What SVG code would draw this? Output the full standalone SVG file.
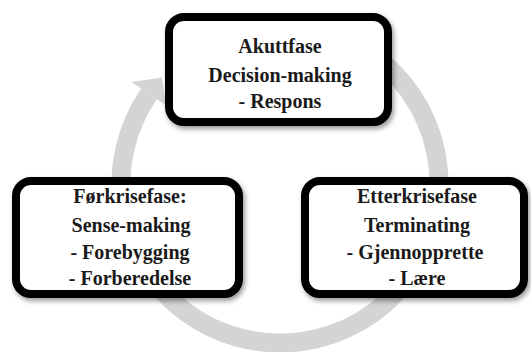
<svg xmlns="http://www.w3.org/2000/svg" width="531" height="352" viewBox="0 0 531 352">
  <style>
    .box { fill: #ffffff; stroke: #000000; stroke-width: 8; filter: url(#shadow); }
    .label { font-family: "Liberation Serif", "Times New Roman", serif; font-weight: bold; font-size: 20px; fill: #1a1a1a; text-anchor: middle; }
    .ring { fill: none; stroke: #d4d4d4; stroke-width: 19; }
    .head { fill: #d4d4d4; }
  </style>
  <defs>
    <filter id="shadow" x="-10%" y="-10%" width="125%" height="130%">
      <feDropShadow dx="2" dy="3" stdDeviation="2.5" flood-color="#000000" flood-opacity="0.4"/>
    </filter>
  </defs>

  <!-- circular cycle arrow behind the phases -->
  <g id="connectors">
    <path class="ring" d="M 382.2 62.2 A 159 159 0 1 1 149.0 93.9"/>
    <polygon class="head" points="131.7,82.0 161.8,77.6 166.3,105.8"/>
  </g>

  <g id="akuttfase">
    <rect class="box" x="169" y="17" width="219" height="105" rx="15"/>
    <text class="label" x="280" y="53">Akuttfase</text>
    <text class="label" x="280" y="82">Decision-making</text>
    <text class="label" x="280" y="108">- Respons</text>
  </g>

  <g id="forkrisefase">
    <rect class="box" x="16" y="181" width="223" height="113" rx="15"/>
    <text class="label" x="130" y="203">Førkrisefase:</text>
    <text class="label" x="131" y="232">Sense-making</text>
    <text class="label" x="130" y="259">- Forebygging</text>
    <text class="label" x="130" y="285">- Forberedelse</text>
  </g>

  <g id="etterkrisefase">
    <rect class="box" x="305" y="181" width="219" height="113" rx="15"/>
    <text class="label" x="417" y="203">Etterkrisefase</text>
    <text class="label" x="417" y="232">Terminating</text>
    <text class="label" x="415" y="259">- Gjennopprette</text>
    <text class="label" x="417" y="285">- Lære</text>
  </g>
</svg>
